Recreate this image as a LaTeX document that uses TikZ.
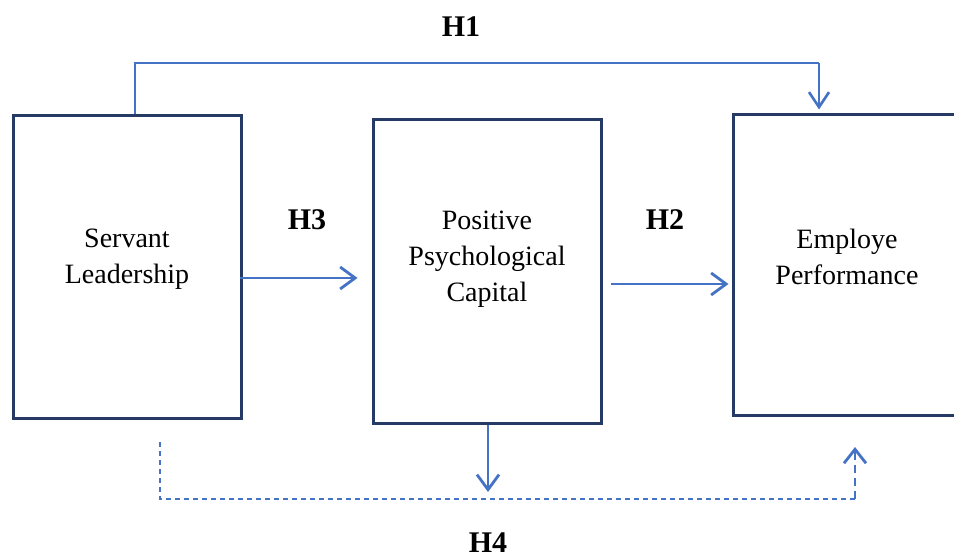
\documentclass[tikz,border=0pt]{standalone}
\usepackage{fontspec}
\setmainfont{Liberation Serif}
\usetikzlibrary{arrows.meta}
\definecolor{boxnavy}{RGB}{38,58,102}
\definecolor{linkblue}{RGB}{68,114,196}
\tikzset{
  construct/.style={draw=boxnavy, line width=3pt, minimum width=228pt, inner sep=0pt},
  caption/.style={align=center, inner sep=0pt, font=\fontsize{28}{36}\selectfont},
  hyp/.style={inner sep=0pt, font=\fontsize{30}{34}\selectfont\bfseries},
  link/.style={draw=linkblue, line width=2.5pt, -{Straight Barb[length=15pt,width=22pt,line width=2.8pt]}},
  direct/.style={draw=linkblue, line width=1.8pt},
  mediated/.style={draw=linkblue, line width=1.6pt, dash pattern=on 5pt off 4pt},
  mediatedtip/.style={draw=linkblue, line width=2.6pt, dash pattern=on 8pt off 5pt,
    -{Straight Barb[length=14pt,width=22pt,line width=2.8pt]}}
}
\begin{document}
\begin{tikzpicture}[x=1pt, y=-1pt]
\clip (0,0) rectangle (954,559);
\fill[white] (0,0) rectangle (954,559);

% three constructs
\node[construct, minimum height=302pt] (sl) at (127,267) {};
\node[construct, minimum height=303pt] (pc) at (487,271.5) {};
\node[construct, minimum height=300pt] (ep) at (847,265) {};

\node[caption] (sltext) at (127,259) {Servant\\Leadership};
\node[caption] (pctext) at (487,259) {Positive\\Psychological\\Capital};
\node[caption] (eptext) at (847,257) {Employe\\Performance};

% hypothesis labels
\node[hyp] (h1) at (461,27) {H1};
\node[hyp] (h3) at (307,220) {H3};
\node[hyp] (h2) at (665,220) {H2};
\node[hyp] (h4) at (488,543) {H4};

% routing points
\coordinate (h1left) at (135,63);
\coordinate (h1right) at (819,63);
\coordinate (h3lane) at (0,278);
\coordinate (h2lane) at (0,284);
\coordinate (h4start) at (160,442);
\coordinate (h4corner) at (160,499);
\coordinate (h4turn) at (855,499);
\coordinate (h4end) at (855,447);
\coordinate (pcdown) at (488,492);

% H1: direct path over the top
\draw[direct] (sl.north -| h1left) -- (h1left) -- (h1right);
\draw[direct, -{Straight Barb[length=15pt,width=20pt,line width=2.6pt]}, shorten >=4pt]
  (h1right) -- (ep.north -| h1right);

% H3 and H2
\draw[link, shorten <=-3pt, shorten >=14pt] (sl.east |- h3lane) -- (pc.west |- h3lane);
\draw[link, shorten <=8pt, shorten >=3pt] (pc.east |- h2lane) -- (ep.west |- h2lane);

% mediator drop
\draw[link] (pc.south -| pcdown) -- (pcdown);

% H4: mediated path underneath
\draw[mediated] (h4start) -- (h4corner) -- (h4turn);
\draw[mediatedtip] (h4turn) -- (h4end);
\end{tikzpicture}
\end{document}
